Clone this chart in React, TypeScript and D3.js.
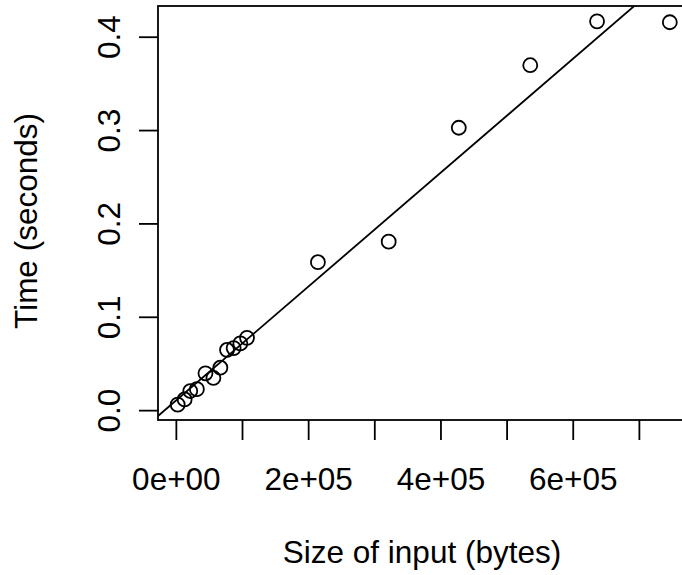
import React from "react";
import * as d3 from "d3";

// input sizes (bytes) and elapsed times (seconds)
const sizes = [2000, 12500, 21000, 31000, 44000, 56000, 66500, 76600, 86600, 96700, 106800,
  214000, 321000, 427000, 535000, 636000, 746000];
const times = [0.0064, 0.012, 0.021, 0.023, 0.040, 0.035, 0.046, 0.065, 0.067, 0.072, 0.078,
  0.159, 0.181, 0.303, 0.370, 0.417, 0.416];

const xTicks = [0, 100000, 200000, 300000, 400000, 500000, 600000, 700000];
const xTickLabels = ["0e+00", "", "2e+05", "", "4e+05", "", "6e+05", ""];
const yTicks = [0, 0.1, 0.2, 0.3, 0.4];
const yTickLabels = ["0.0", "0.1", "0.2", "0.3", "0.4"];

const W = 682, H = 575;
const box = { left: 158, top: 6, bottom: 420, right: 689.5 };
const font = "'Liberation Sans', Arial, Helvetica, sans-serif";
const fs = 31.5;

// R style range: data extent padded by 4% on each side
function rRange(v: number[]) {
  const [lo, hi] = d3.extent(v) as [number, number];
  const e = (hi - lo) * 0.04;
  return [lo - e, hi + e];
}

export default function App() {
  const x = d3.scaleLinear().domain(rRange(sizes)).range([box.left, box.right]);
  const y = d3.scaleLinear().domain(rRange(times)).range([box.bottom, box.top]);

  // least squares fit, like abline(lm(time ~ size))
  const mx = d3.mean(sizes)!, my = d3.mean(times)!;
  let sxy = 0, sxx = 0;
  sizes.forEach((s, i) => { sxy += (s - mx) * (times[i] - my); sxx += (s - mx) ** 2; });
  const slope = sxy / sxx;
  const icpt = my - slope * mx;
  const [x0, x1] = x.domain();
  const fit = d3.line<number>().x(d => x(d)).y(d => y(icpt + slope * d))([x0, x1]);

  return (
    <svg width={W} height={H} style={{ position: "absolute", left: 0, top: 0, background: "#fff" }}
      fontFamily={font}>
      <defs>
        <clipPath id="plotArea">
          <rect x={box.left} y={box.top} width={box.right - box.left} height={box.bottom - box.top} />
        </clipPath>
      </defs>

      <rect x={box.left} y={box.top} width={box.right - box.left} height={box.bottom - box.top}
        fill="none" stroke="#000" strokeWidth={1.8} />

      {/* x axis */}
      {xTicks.map((t, i) => (
        <g key={"xt" + i}>
          <line x1={x(t)} x2={x(t)} y1={box.bottom} y2={box.bottom + 20} stroke="#000" strokeWidth={1.8} />
          {xTickLabels[i] && (
            <text x={x(t)} y={490} textAnchor="middle" fontSize={fs}>{xTickLabels[i]}</text>
          )}
        </g>
      ))}
      <text x={422} y={563} textAnchor="middle" fontSize={fs}>Size of input (bytes)</text>

      {/* y axis */}
      {yTicks.map((t, i) => (
        <g key={"yt" + i}>
          <line x1={box.left - 19} x2={box.left} y1={y(t)} y2={y(t)} stroke="#000" strokeWidth={1.8} />
          <text transform={`translate(120,${y(t)}) rotate(-90)`} textAnchor="middle" fontSize={fs}>
            {yTickLabels[i]}
          </text>
        </g>
      ))}
      <text transform={`translate(37,221) rotate(-90)`} textAnchor="middle"
        fontSize={fs}>Time (seconds)</text>

      <g clipPath="url(#plotArea)">
        <path d={fit ?? ""} fill="none" stroke="#000" strokeWidth={1.8} />
        {sizes.map((s, i) => (
          <circle key={i} cx={x(s)} cy={y(times[i])} r={7} fill="none" stroke="#000" strokeWidth={1.8} />
        ))}
      </g>
    </svg>
  );
}
